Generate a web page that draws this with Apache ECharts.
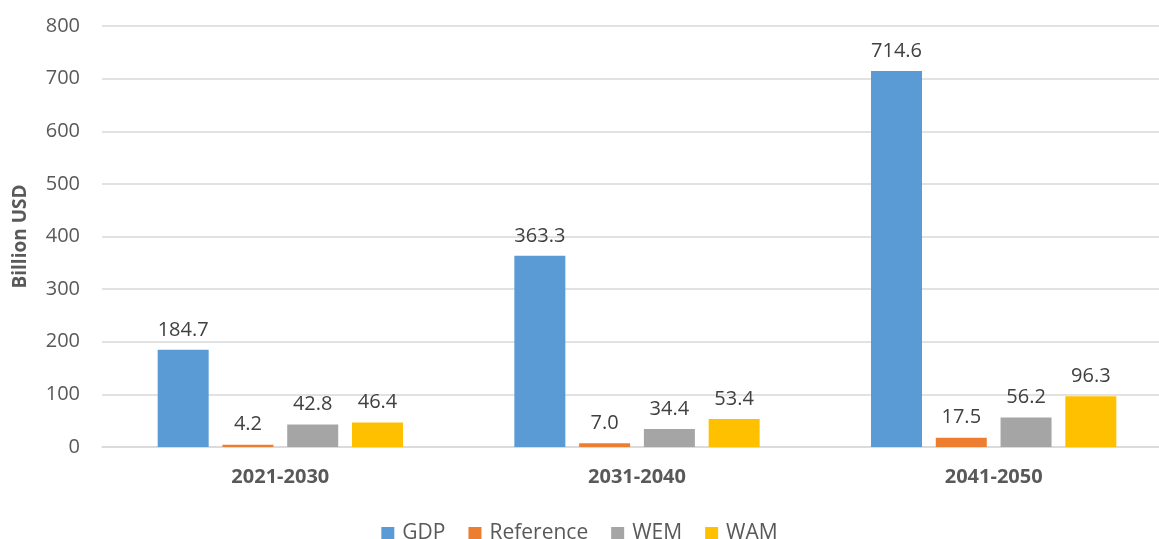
<!DOCTYPE html>
<html>
<head>
<meta charset="utf-8">
<script src="https://cdn.jsdelivr.net/npm/echarts@6/dist/echarts.min.js"></script>
<style>
  html, body { margin: 0; padding: 0; background: #fff; }
  #main { width: 1159px; height: 539px; }
</style>
</head>
<body>
<div id="main"></div>
<script>
  // 数据
  const periods = ['2021-2030', '2031-2040', '2041-2050']
  const gdp = [184.7, 363.3, 714.6]
  const reference = [4.2, 7.0, 17.5]
  const wem = [42.8, 34.4, 56.2]
  const wam = [46.4, 53.4, 96.3]

  const font = '"Open Sans", "Liberation Sans", sans-serif'
  const colors = ['#5B9BD5', '#ED7D31', '#A5A5A5', '#FFC000']

  function bar(name, data) {
    return {
      name: name,
      type: 'bar',
      data: data,
      barWidth: 51,
      barGap: '27%',
      label: {
        show: true,
        position: 'top',
        distance: 10,
        formatter: p => p.value.toFixed(1),
        color: '#404040',
        fontSize: 20,
        fontFamily: font
      }
    }
  }

  const chart = echarts.init(document.getElementById('main'))
  chart.setOption({
    animation: false,
    color: colors,
    grid: { left: 102, top: 26, width: 1070, height: 421, outerBoundsMode: 'none' },
    legend: {
      top: 518,
      left: 'center',
      itemWidth: 13,
      itemHeight: 13,
      itemGap: 23,
      icon: 'rect',
      textStyle: { color: '#595959', fontSize: 21, fontFamily: font, padding: [0, 0, 0, 3] }
    },
    xAxis: {
      type: 'category',
      data: periods,
      axisLine: { lineStyle: { color: '#D9D9D9', width: 1.5 } },
      axisTick: { show: false },
      axisLabel: { color: '#595959', fontSize: 20, fontWeight: 'bold', fontFamily: font, margin: 20 }
    },
    yAxis: {
      type: 'value',
      min: 0,
      max: 800,
      interval: 100,
      name: 'Billion USD',
      nameLocation: 'middle',
      nameGap: 72,
      nameTextStyle: { color: '#595959', fontSize: 19, fontWeight: 'bold', fontFamily: font },
      axisLine: { show: false },
      axisTick: { show: false },
      axisLabel: { color: '#595959', fontSize: 20, fontFamily: font, margin: 22 },
      splitLine: { lineStyle: { color: '#D9D9D9', width: 1.5 } }
    },
    series: [
      bar('GDP', gdp),
      bar('Reference', reference),
      bar('WEM', wem),
      bar('WAM', wam)
    ]
  })
</script>
</body>
</html>
